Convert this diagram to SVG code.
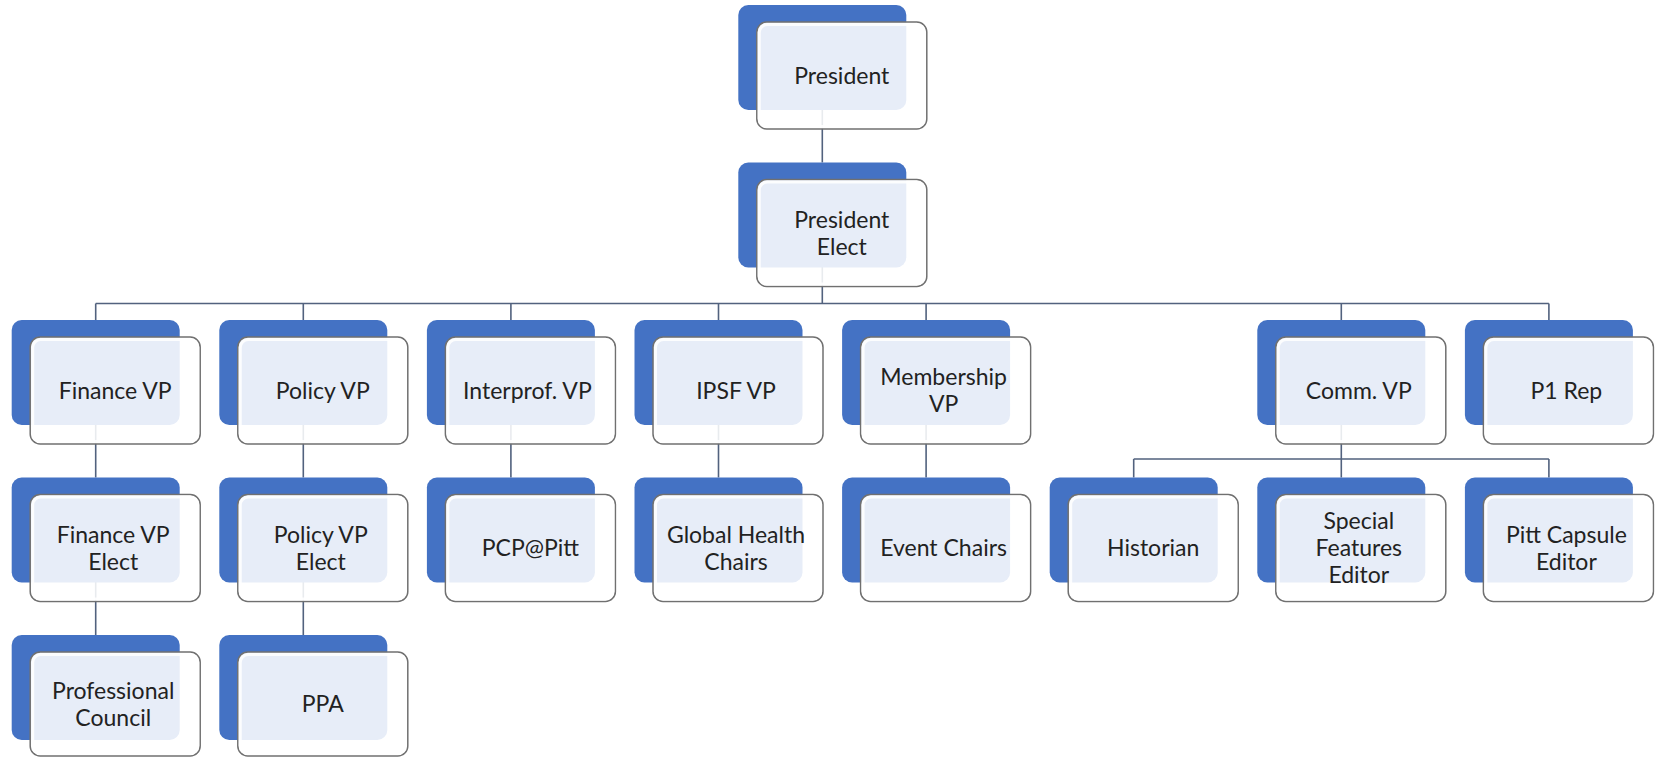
<svg xmlns="http://www.w3.org/2000/svg" width="1657" height="757" viewBox="0 0 1657 757">
<defs>
<style>
.bg{fill:#4472C4;}
.fr{fill:#ffffff;fill-opacity:0.87;stroke:#707070;stroke-width:1.5;}
.rim{fill:none;stroke:#ffffff;stroke-width:3;stroke-opacity:0.85;}
.t{font-family:Lato,"Liberation Sans",sans-serif;font-size:23px;fill:#222222;text-anchor:middle;}
.c{fill:none;stroke:#52627e;stroke-width:1.6;}
</style>
</defs>
<rect x="0" y="0" width="1657" height="757" fill="#ffffff"/>
<g id="connectors" class="c">
<path d="M822.3 100V162.5"/>
<path d="M822.3 260V303.5"/>
<path d="M95.7 303.5H1548.9"/>
<path d="M95.7 303.5V320M303.3 303.5V320M510.9 303.5V320M718.5 303.5V320M926.1 303.5V320M1341.3 303.5V320M1548.9 303.5V320"/>
<path d="M95.7 420V477.5M303.3 420V477.5M510.9 420V477.5M718.5 420V477.5M926.1 420V477.5"/>
<path d="M95.7 580V635M303.3 580V635"/>
<path d="M1341.3 420V477.5M1133.7 459H1548.9M1133.7 459V477.5M1548.9 459V477.5"/>
</g>
<g id="president"><rect class="bg" x="738.3" y="5" width="168" height="105" rx="10"/><rect class="fr" x="756.8" y="22" width="170" height="107" rx="10"/><rect class="rim" x="759.3" y="24.5" width="165" height="102" rx="8"/><text class="t" x="841.8" y="83.7">President</text></g>
<g id="president-elect"><rect class="bg" x="738.3" y="162.5" width="168" height="105" rx="10"/><rect class="fr" x="756.8" y="179.5" width="170" height="107" rx="10"/><rect class="rim" x="759.3" y="182" width="165" height="102" rx="8"/><text class="t" x="841.8" y="227.7">President</text><text class="t" x="841.8" y="254.7">Elect</text></g>
<g id="finance-vp"><rect class="bg" x="11.7" y="320" width="168" height="105" rx="10"/><rect class="fr" x="30.2" y="337" width="170" height="107" rx="10"/><rect class="rim" x="32.7" y="339.5" width="165" height="102" rx="8"/><text class="t" x="115.2" y="398.7">Finance VP</text></g>
<g id="policy-vp"><rect class="bg" x="219.3" y="320" width="168" height="105" rx="10"/><rect class="fr" x="237.8" y="337" width="170" height="107" rx="10"/><rect class="rim" x="240.3" y="339.5" width="165" height="102" rx="8"/><text class="t" x="322.8" y="398.7">Policy VP</text></g>
<g id="interprof-vp"><rect class="bg" x="426.9" y="320" width="168" height="105" rx="10"/><rect class="fr" x="445.4" y="337" width="170" height="107" rx="10"/><rect class="rim" x="447.9" y="339.5" width="165" height="102" rx="8"/><text class="t" x="527.4" y="398.7">Interprof. VP</text></g>
<g id="ipsf-vp"><rect class="bg" x="634.5" y="320" width="168" height="105" rx="10"/><rect class="fr" x="653" y="337" width="170" height="107" rx="10"/><rect class="rim" x="655.5" y="339.5" width="165" height="102" rx="8"/><text class="t" x="736" y="398.7">IPSF VP</text></g>
<g id="membership-vp"><rect class="bg" x="842.1" y="320" width="168" height="105" rx="10"/><rect class="fr" x="860.6" y="337" width="170" height="107" rx="10"/><rect class="rim" x="863.1" y="339.5" width="165" height="102" rx="8"/><text class="t" x="943.6" y="385.2">Membership</text><text class="t" x="943.6" y="412.2">VP</text></g>
<g id="comm-vp"><rect class="bg" x="1257.3" y="320" width="168" height="105" rx="10"/><rect class="fr" x="1275.8" y="337" width="170" height="107" rx="10"/><rect class="rim" x="1278.3" y="339.5" width="165" height="102" rx="8"/><text class="t" x="1358.8" y="398.7">Comm. VP</text></g>
<g id="p1-rep"><rect class="bg" x="1464.9" y="320" width="168" height="105" rx="10"/><rect class="fr" x="1483.4" y="337" width="170" height="107" rx="10"/><rect class="rim" x="1485.9" y="339.5" width="165" height="102" rx="8"/><text class="t" x="1566.4" y="398.7">P1 Rep</text></g>
<g id="finance-vp-elect"><rect class="bg" x="11.7" y="477.5" width="168" height="105" rx="10"/><rect class="fr" x="30.2" y="494.5" width="170" height="107" rx="10"/><rect class="rim" x="32.7" y="497" width="165" height="102" rx="8"/><text class="t" x="113.2" y="542.7">Finance VP</text><text class="t" x="113.2" y="569.7">Elect</text></g>
<g id="policy-vp-elect"><rect class="bg" x="219.3" y="477.5" width="168" height="105" rx="10"/><rect class="fr" x="237.8" y="494.5" width="170" height="107" rx="10"/><rect class="rim" x="240.3" y="497" width="165" height="102" rx="8"/><text class="t" x="320.8" y="542.7">Policy VP</text><text class="t" x="320.8" y="569.7">Elect</text></g>
<g id="pcp-pitt"><rect class="bg" x="426.9" y="477.5" width="168" height="105" rx="10"/><rect class="fr" x="445.4" y="494.5" width="170" height="107" rx="10"/><rect class="rim" x="447.9" y="497" width="165" height="102" rx="8"/><text class="t" x="530.4" y="556.2">PCP@Pitt</text></g>
<g id="global-health-chairs"><rect class="bg" x="634.5" y="477.5" width="168" height="105" rx="10"/><rect class="fr" x="653" y="494.5" width="170" height="107" rx="10"/><rect class="rim" x="655.5" y="497" width="165" height="102" rx="8"/><text class="t" x="736" y="542.7">Global Health</text><text class="t" x="736" y="569.7">Chairs</text></g>
<g id="event-chairs"><rect class="bg" x="842.1" y="477.5" width="168" height="105" rx="10"/><rect class="fr" x="860.6" y="494.5" width="170" height="107" rx="10"/><rect class="rim" x="863.1" y="497" width="165" height="102" rx="8"/><text class="t" x="943.6" y="556.2">Event Chairs</text></g>
<g id="historian"><rect class="bg" x="1049.7" y="477.5" width="168" height="105" rx="10"/><rect class="fr" x="1068.2" y="494.5" width="170" height="107" rx="10"/><rect class="rim" x="1070.7" y="497" width="165" height="102" rx="8"/><text class="t" x="1153.2" y="556.2">Historian</text></g>
<g id="special-features-editor"><rect class="bg" x="1257.3" y="477.5" width="168" height="105" rx="10"/><rect class="fr" x="1275.8" y="494.5" width="170" height="107" rx="10"/><rect class="rim" x="1278.3" y="497" width="165" height="102" rx="8"/><text class="t" x="1358.8" y="529.2">Special</text><text class="t" x="1358.8" y="556.2">Features</text><text class="t" x="1358.8" y="583.2">Editor</text></g>
<g id="pitt-capsule-editor"><rect class="bg" x="1464.9" y="477.5" width="168" height="105" rx="10"/><rect class="fr" x="1483.4" y="494.5" width="170" height="107" rx="10"/><rect class="rim" x="1485.9" y="497" width="165" height="102" rx="8"/><text class="t" x="1566.4" y="542.7">Pitt Capsule</text><text class="t" x="1566.4" y="569.7">Editor</text></g>
<g id="professional-council"><rect class="bg" x="11.7" y="635" width="168" height="105" rx="10"/><rect class="fr" x="30.2" y="652" width="170" height="104" rx="10"/><rect class="rim" x="32.7" y="654.5" width="165" height="99" rx="8"/><text class="t" x="113.2" y="698.7">Professional</text><text class="t" x="113.2" y="725.7">Council</text></g>
<g id="ppa"><rect class="bg" x="219.3" y="635" width="168" height="105" rx="10"/><rect class="fr" x="237.8" y="652" width="170" height="104" rx="10"/><rect class="rim" x="240.3" y="654.5" width="165" height="99" rx="8"/><text class="t" x="322.8" y="712.2">PPA</text></g>
</svg>
